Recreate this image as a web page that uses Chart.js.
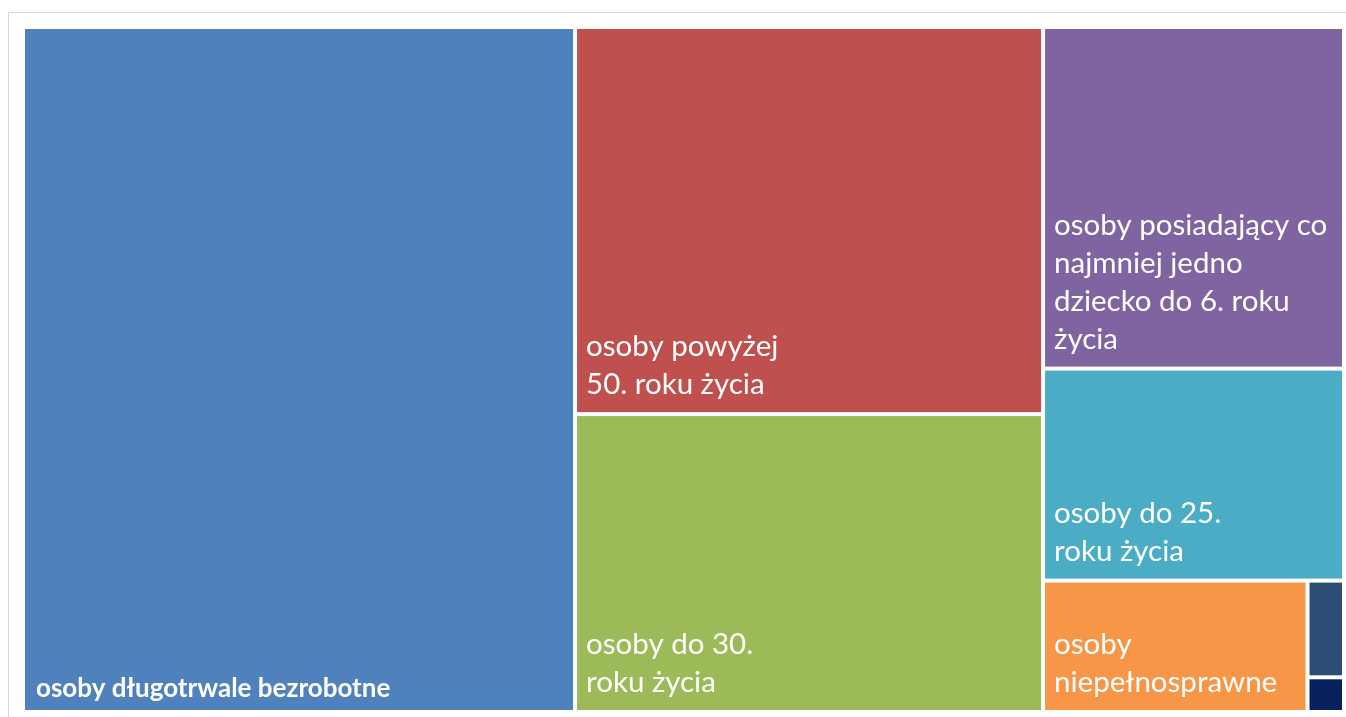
<!DOCTYPE html>
<html>
<head>
<meta charset="utf-8">
<script src="https://cdn.jsdelivr.net/npm/chart.js@4.4.1/dist/chart.umd.min.js"></script>
<style>
  html, body { margin: 0; padding: 0; background: #ffffff; overflow: hidden; }
  #frame { position: absolute; left: 8px; top: 12px; width: 1400px; height: 800px; border: 1px solid #d9d9d9; }
  #chart { position: absolute; left: 0; top: 0; }
</style>
</head>
<body>
<div id="frame"></div>
<canvas id="chart" width="1346" height="717"></canvas>
<script>
// Categories (multi-line labels, as in the picture)
const categories = [
    ['osoby długotrwale bezrobotne'],
    ['osoby powyżej', '50. roku życia'],
    ['osoby do 30.', 'roku życia'],
    ['osoby posiadający co', 'najmniej jedno', 'dziecko do 6. roku', 'życia'],
    ['osoby do 25.', 'roku życia'],
    ['osoby', 'niepełnosprawne'],
    ['inne'],
    ['pozostali']
];
const values = [4179, 2002, 1541, 1136, 705, 384, 39, 14];
const colors = ['#4f81bd', '#c0504d', '#9bbb59', '#8064a2', '#4bacc6', '#f79646', '#2c4d75', '#06215e'];
const showLabel = [true, true, true, true, true, true, false, false];

// worst aspect ratio of a row laid along a side
function worst(row, side) {
    const s = row.reduce((a, b) => a + b, 0);
    const mx = Math.max(...row), mn = Math.min(...row);
    return Math.max(side * side * mx / (s * s), (s * s) / (side * side * mn));
}

// Squarified treemap layout, in pixel-proportional units
function squarify(vals, rect) {
    const total = vals.reduce((a, b) => a + b, 0);
    const areas = vals.map(v => v * rect.w * rect.h / total);
    const out = [];
    let r = { ...rect };
    let i = 0;
    while (i < areas.length) {
        const side = Math.min(r.w, r.h);
        let row = [areas[i]];
        let j = i + 1;
        while (j < areas.length && worst(row.concat(areas[j]), side) <= worst(row, side)) {
            row.push(areas[j]);
            j++;
        }
        const s = row.reduce((a, b) => a + b, 0);
        if (r.w >= r.h) {
            const t = s / r.h;
            let yy = r.y;
            row.forEach(a => { const hh = a / t; out.push({ x: r.x, y: yy, w: t, h: hh }); yy += hh; });
            r.x += t; r.w -= t;
        } else {
            const t = s / r.w;
            let xx = r.x;
            row.forEach(a => { const ww = a / t; out.push({ x: xx, y: r.y, w: ww, h: t }); xx += ww; });
            r.y += t; r.h -= t;
        }
        i = j;
    }
    return out;
}

const treemapPlugin = {
    id: 'treemap',
    afterDatasetsDraw(chart) {
        const ctx = chart.ctx;
        const area = chart.chartArea;
        const xs = chart.scales.x, ys = chart.scales.y;
        const W = area.right - area.left, H = area.bottom - area.top;
        const cells = squarify(values, { x: 0, y: 0, w: W, h: H });
        const gap = 2;

        ctx.save();
        cells.forEach((c, i) => {
            const left = xs.getPixelForValue(c.x / W) + gap;
            const right = xs.getPixelForValue((c.x + c.w) / W) - gap;
            const top = ys.getPixelForValue(c.y / H) + gap;
            const bottom = ys.getPixelForValue((c.y + c.h) / H) - gap;
            ctx.fillStyle = colors[i];
            ctx.fillRect(left, top, right - left, bottom - top);

            if (!showLabel[i]) return;
            ctx.fillStyle = '#ffffff';
            ctx.textAlign = 'left';
            ctx.textBaseline = 'alphabetic';
            const lines = categories[i];
            if (i === 0) {
                ctx.font = 'bold 26px Lato, "Open Sans", sans-serif';
                ctx.fillText(lines[0], left + 11, bottom - 13);
            } else {
                ctx.font = '29.5px Lato, "Open Sans", sans-serif';
                const lh = 38;
                let y = bottom - 18 - (lines.length - 1) * lh;
                lines.forEach(l => { ctx.fillText(l, left + 9, y); y += lh; });
            }
        });
        ctx.restore();
    }
};

const ctx = document.getElementById('chart').getContext('2d');
new Chart(ctx, {
    type: 'scatter',
    data: {
        datasets: [{ data: [], pointRadius: 0 }]
    },
    options: {
        responsive: false,
        animation: false,
        layout: { padding: { left: 23, top: 27, right: 2, bottom: 5 } },
        scales: {
            x: { type: 'linear', min: 0, max: 1, display: false },
            y: { type: 'linear', min: 0, max: 1, reverse: true, display: false }
        },
        plugins: {
            legend: { display: false },
            tooltip: { enabled: false }
        }
    },
    plugins: [treemapPlugin]
});
</script>
</body>
</html>
